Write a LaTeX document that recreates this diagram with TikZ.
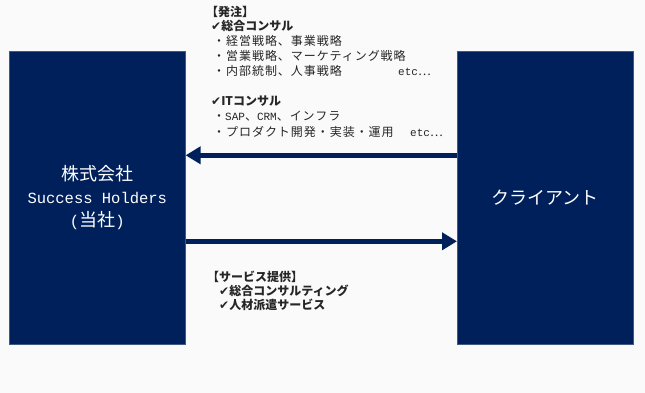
\documentclass[tikz,border=0pt]{standalone}
\usepackage{fontspec}
\setmainfont{Noto Sans CJK JP}
\newfontfamily\spacedfont[LetterSpace=8]{Noto Sans CJK JP}
\newfontfamily\symfont{DejaVu Sans}
\newfontfamily\monofont{Liberation Mono}
\usetikzlibrary{arrows.meta}
\definecolor{navy}{HTML}{00205B}
\definecolor{bg}{HTML}{FAFAFA}
\newcommand{\chk}{{\symfont\bfseries ✔}}
\newcommand{\mono}[1]{{\fontsize{11}{14}\monofont #1}}
\tikzset{
  bigbox/.style={fill=navy, draw=navy!75!white, line width=0.6pt, text=white, align=center,
    minimum width=176, minimum height=293, anchor=north west,
    font=\fontsize{18}{23}\selectfont},
  arr/.style={navy, line width=5.5pt, -{Triangle[length=15pt,width=17pt]}},
  lst/.style={anchor=base west, inner sep=0pt, font=\fontsize{12}{14}\spacedfont, text=black!85},
  hdr/.style={lst, font=\fontsize{12}{14}\selectfont\bfseries}
}
\begin{document}
\begin{tikzpicture}[x=1pt,y=-1pt]
\fill[bg] (0,0) rectangle (645,393);
\useasboundingbox (0,0) rectangle (645,393);
\node[bigbox] (L) at (9,51) {株式会社\\{\fontsize{15.5}{23}\monofont Success Holders}\\{\fontsize{15.5}{23}\monofont(}当社{\fontsize{15.5}{23}\monofont)}};
\node[bigbox] (R) at (457,51) {クライアント};
\path (R.west) ++(0,-42.5) coordinate (r1);
\path (L.east) ++(0,-42.5) coordinate (l1);
\path (L.east) ++(0,43.5) coordinate (l2);
\path (R.west) ++(0,43.5) coordinate (r2);
\draw[arr] (r1) -- (l1);
\draw[arr] (l2) -- (r2);
% order text
\node[hdr] (t0) at (206,17) {【発注】};
\node[hdr] (t1) at (211,31) {\chk{}総合コンサル};
\node[lst] (t2) at (213,46) {・経営戦略、事業戦略};
\node[lst] (t3) at (213,61) {・営業戦略、マーケティング戦略};
\node[lst] (t4) at (213,76) {・内部統制、人事戦略};
\node[lst] (t4e) at (398,76) {\mono{etc}…};
\node[hdr] (t5) at (211,106) {\chk{}ITコンサル};
\node[lst] (t6) at (213,121) {・\mono{SAP}、\mono{CRM}、インフラ};
\node[lst] (t7) at (213,136) {・プロダクト開発・実装・運用};
\node[lst] (t7e) at (410,136) {\mono{etc}…};
% service text
\node[hdr] (s0) at (207,281) {【サービス提供】};
\node[hdr] (s1) at (219,295) {\chk{}総合コンサルティング};
\node[hdr] (s2) at (219,309) {\chk{}人材派遣サービス};
\end{tikzpicture}
\end{document}
